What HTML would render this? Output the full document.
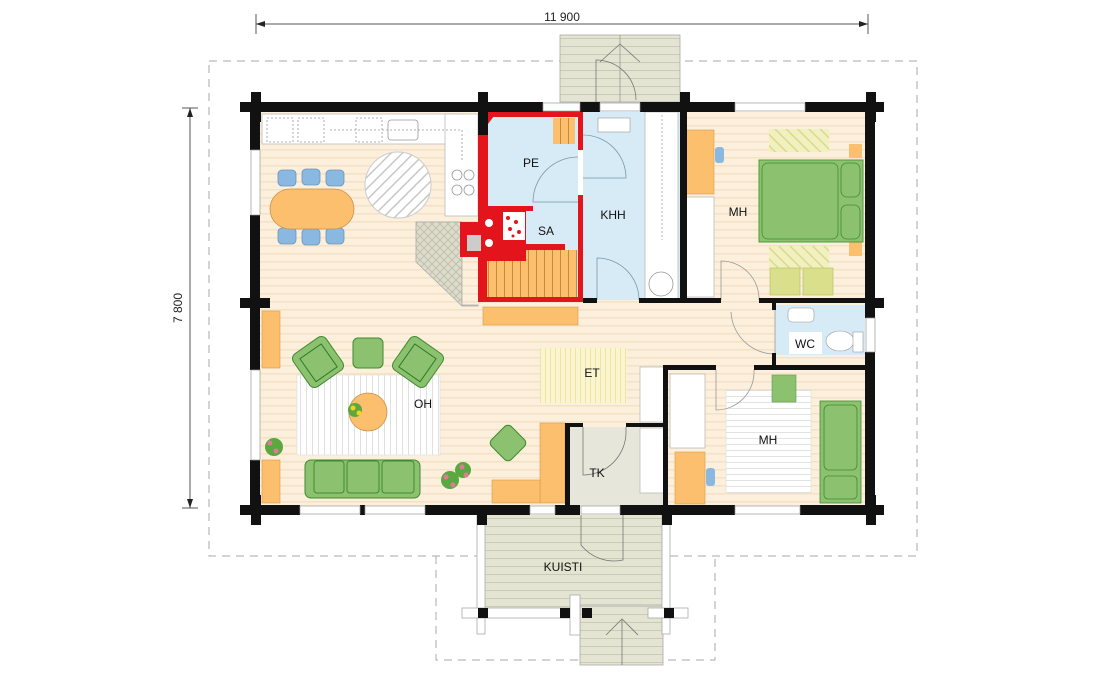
<!DOCTYPE html>
<html><head><meta charset="utf-8"><style>
html,body{margin:0;padding:0;background:#fff;}
svg{display:block;font-family:"Liberation Sans",Arial,sans-serif;}
</style></head><body>
<svg width="1100" height="680" viewBox="0 0 1100 680" xmlns="http://www.w3.org/2000/svg">
<defs>
<pattern id="floor" width="8" height="8" patternUnits="userSpaceOnUse">
<rect width="8" height="8" fill="#fcefdc"/><rect y="5" width="8" height="1.5" fill="#f5e2c6"/></pattern>
<pattern id="blue" width="6" height="6" patternUnits="userSpaceOnUse">
<rect width="6" height="6" fill="#d6ebf5"/></pattern>
<pattern id="deck" width="8" height="8" patternUnits="userSpaceOnUse">
<rect width="8" height="8" fill="#e3e4d2"/><rect y="6" width="8" height="1" fill="#c9cbb4"/></pattern>
<pattern id="hatch" width="8" height="8" patternUnits="userSpaceOnUse" patternTransform="rotate(45)">
<rect width="8" height="8" fill="#fff"/><rect width="1.5" height="8" fill="#c8c8c8"/></pattern>
<pattern id="vstripe" width="6" height="6" patternUnits="userSpaceOnUse">
<rect width="6" height="6" fill="#fff"/><rect width="1" height="6" fill="#e0e0e0"/></pattern>
<pattern id="hstripe" width="6" height="6" patternUnits="userSpaceOnUse">
<rect width="6" height="6" fill="#fff"/><rect width="6" height="1" fill="#e2e2e2"/></pattern>
<pattern id="etmat" width="5" height="5" patternUnits="userSpaceOnUse">
<rect width="5" height="5" fill="#fbf5cf"/><rect width="1" height="5" fill="#efe3a8"/></pattern>
<pattern id="bench" width="8" height="8" patternUnits="userSpaceOnUse">
<rect width="8" height="8" fill="#fbbf6e"/><rect width="1" height="8" fill="#c88a3a"/></pattern>
<pattern id="cross" width="8" height="8" patternUnits="userSpaceOnUse">
<rect width="8" height="8" fill="#dddccc"/><path d="M0 0L8 8M8 0L0 8" stroke="#bdbca8" stroke-width="0.8"/></pattern>
<pattern id="ydiag" width="8" height="8" patternUnits="userSpaceOnUse" patternTransform="rotate(-45)">
<rect width="8" height="8" fill="#f1f0c0"/><rect width="1.5" height="8" fill="#dcd98a"/></pattern>
</defs>

<!-- dimensions -->
<g stroke="#555" stroke-width="1" fill="none">
<line x1="256" y1="24" x2="868" y2="24"/><line x1="256" y1="14" x2="256" y2="34"/><line x1="868" y1="14" x2="868" y2="34"/>
<line x1="190" y1="108" x2="190" y2="508"/><line x1="182" y1="108" x2="198" y2="108"/><line x1="182" y1="508" x2="198" y2="508"/>
</g>
<path d="M256 24l9-3v6z M868 24l-9-3v6z M190 108l-3 9h6z M190 508l-3-9h6z" fill="#222"/>
<text x="562" y="21" font-size="12" text-anchor="middle" fill="#222">11 900</text>
<text x="182" y="308" font-size="12" text-anchor="middle" fill="#222" transform="rotate(-90 182 308)">7 800</text>

<!-- roof dashed -->
<g stroke="#aaa" stroke-width="1" fill="none" stroke-dasharray="8 6">
<rect x="209" y="61" width="708" height="495"/>
<polyline points="436,556 436,660 715,660 715,556"/>
</g>

<!-- back porch -->
<rect x="560" y="35" width="120" height="67" fill="url(#deck)" stroke="#aaa" stroke-width="0.8"/>
<line x1="620" y1="35" x2="620" y2="102" stroke="#999" stroke-width="0.8"/>
<path d="M596 102V60 A40 40 0 0 1 636 100" fill="none" stroke="#777" stroke-width="0.8"/>
<path d="M600 62l20 -18 20 18" fill="none" stroke="#777" stroke-width="0.8"/>

<!-- front porch -->
<rect x="483" y="515" width="182" height="95" fill="url(#deck)"/>
<rect x="580" y="605" width="83" height="60" fill="url(#deck)" stroke="#aaa" stroke-width="0.8"/>
<line x1="622" y1="620" x2="622" y2="665" stroke="#777" stroke-width="0.8"/>
<path d="M606 635l16-16 16 16" fill="none" stroke="#777" stroke-width="0.8"/>
<path d="M581 515V545A42 42 0 0 0 623 560V515" fill="none" stroke="#777" stroke-width="0.8"/>
<g fill="#fff" stroke="#aaa" stroke-width="0.8">
<rect x="477" y="515" width="8" height="95"/><rect x="662" y="515" width="8" height="95"/>
<rect x="462" y="608" width="115" height="10"/><rect x="648" y="608" width="40" height="10"/>
<rect x="477" y="618" width="8" height="16"/><rect x="570" y="595" width="10" height="40"/><rect x="662" y="618" width="8" height="16"/>
</g>
<g fill="#111"><rect x="478" y="608" width="10" height="10"/><rect x="560" y="608" width="10" height="10"/><rect x="582" y="608" width="10" height="10"/><rect x="664" y="608" width="10" height="10"/></g>
<text x="563" y="571" font-size="12" text-anchor="middle" fill="#111">KUISTI</text>

<!-- floors -->
<rect x="260" y="112" width="605" height="395" fill="url(#floor)"/>
<rect x="583" y="112" width="97" height="188" fill="#d6ebf5"/>
<rect x="775" y="305" width="90" height="50" fill="#d6ebf5"/>
<rect x="570" y="427" width="95" height="80" fill="#e6e7da"/>

<!-- kitchen -->
<rect x="262" y="114" width="200" height="30" fill="#fff" stroke="#bbb" stroke-width="0.8"/>
<rect x="445" y="114" width="33" height="102" fill="#fff" stroke="#bbb" stroke-width="0.8"/>
<g fill="none" stroke="#999" stroke-width="0.8" stroke-dasharray="2 2">
<rect x="267" y="118" width="26" height="24"/><rect x="298" y="118" width="26" height="24"/><rect x="356" y="118" width="26" height="24"/>
<line x1="330" y1="130" x2="460" y2="130"/><line x1="462" y1="130" x2="462" y2="160"/>
</g>
<rect x="388" y="120" width="30" height="20" rx="3" fill="none" stroke="#999" stroke-width="0.8"/>
<g fill="none" stroke="#999" stroke-width="0.8"><circle cx="457" cy="175" r="5"/><circle cx="469" cy="175" r="5"/><circle cx="457" cy="190" r="5"/><circle cx="469" cy="190" r="5"/></g>
<circle cx="398" cy="185" r="33" fill="url(#hatch)" stroke="#ccc"/>
<g fill="#8ab8e0" stroke="#6595c0" stroke-width="0.8">
<rect x="278" y="170" width="18" height="16" rx="4"/><rect x="302" y="169" width="18" height="16" rx="4"/><rect x="326" y="170" width="18" height="16" rx="4"/>
<rect x="278" y="228" width="18" height="16" rx="4"/><rect x="302" y="229" width="18" height="16" rx="4"/><rect x="326" y="228" width="18" height="16" rx="4"/>
</g>
<rect x="270" y="189" width="84" height="40" rx="20" fill="#fbbf6e" stroke="#c8914a" stroke-width="0.8"/>
<polygon points="416,222 462,222 462,305 478,305 478,306 462,306 416,262" fill="url(#cross)" stroke="#aaa" stroke-width="0.8"/>

<!-- sauna -->
<rect x="478" y="108" width="105" height="194" fill="#e3141b"/>
<rect x="488" y="117" width="90" height="180" fill="#d6ebf5"/>
<polygon points="478,108 500,108 488,124 478,132" fill="#e3141b"/>
<rect x="487" y="250" width="90" height="47" fill="url(#bench)"/>
<rect x="553" y="118" width="22" height="26" fill="url(#bench)"/>
<rect x="478" y="206" width="48" height="55" fill="#e3141b"/>
<rect x="460" y="222" width="20" height="35" fill="#e3141b"/>
<rect x="480" y="244" width="85" height="6" fill="#e3141b"/>
<rect x="488" y="206" width="45" height="5" fill="#e3141b"/>
<rect x="503" y="212" width="22" height="28" fill="#fff"/>
<g fill="#e3141b"><circle cx="508" cy="218" r="2"/><circle cx="516" cy="222" r="2"/><circle cx="510" cy="229" r="2"/><circle cx="519" cy="232" r="2"/><circle cx="513" cy="236" r="1.5"/></g>
<circle cx="489" cy="223" r="4" fill="#fff"/><circle cx="489" cy="243" r="4" fill="#fff"/>
<rect x="467" y="235" width="14" height="16" fill="#ccc"/>
<rect x="578" y="150" width="5" height="45" fill="#fff"/>
<path d="M578 157A45 45 0 0 0 533 202H578" fill="none" stroke="#7a9aaa" stroke-width="0.8"/>
<text x="531" y="167" font-size="12" text-anchor="middle" fill="#111">PE</text>
<text x="546" y="235" font-size="12" text-anchor="middle" fill="#111">SA</text>

<!-- KHH -->
<rect x="598" y="118" width="32" height="14" fill="#fff" stroke="#999" stroke-width="0.6"/>
<rect x="645" y="112" width="33" height="188" fill="#fff" stroke="#bbb" stroke-width="0.8"/>
<line x1="662" y1="115" x2="662" y2="240" stroke="#aaa" stroke-dasharray="2 2" stroke-width="0.8"/>
<circle cx="661" cy="284" r="12" fill="none" stroke="#999" stroke-width="0.8"/>
<path d="M583 135A43 43 0 0 1 626 178H583" fill="none" stroke="#7a9aaa" stroke-width="0.8"/>
<path d="M597 300V258A42 42 0 0 1 639 300" fill="none" stroke="#7a9aaa" stroke-width="0.8"/>
<text x="613" y="219" font-size="12" text-anchor="middle" fill="#111">KHH</text>

<!-- MH top -->
<rect x="686" y="130" width="28" height="64" fill="#fbbf6e" stroke="#d59a48" stroke-width="0.6"/>
<rect x="715" y="147" width="9" height="16" rx="3" fill="#8ab8e0"/>
<rect x="686" y="197" width="28" height="100" fill="#fff" stroke="#bbb" stroke-width="0.8"/>
<rect x="769" y="129" width="60" height="23" fill="url(#ydiag)"/>
<rect x="769" y="246" width="60" height="23" fill="url(#ydiag)"/>
<rect x="770" y="268" width="30" height="27" fill="#d9df8a" stroke="#b5bf60" stroke-width="0.6"/>
<rect x="803" y="268" width="30" height="27" fill="#d9df8a" stroke="#b5bf60" stroke-width="0.6"/>
<rect x="849" y="144" width="13" height="14" fill="#fbbf6e"/><rect x="849" y="242" width="13" height="14" fill="#fbbf6e"/>
<rect x="759" y="160" width="104" height="82" fill="#8cc26f" stroke="#4f9a3a" stroke-width="1"/>
<rect x="762" y="163" width="76" height="76" rx="6" fill="#8cc26f" stroke="#3f8a30" stroke-width="0.8"/>
<rect x="841" y="163" width="19" height="34" rx="6" fill="#8cc26f" stroke="#3f8a30" stroke-width="0.8"/>
<rect x="841" y="205" width="19" height="34" rx="6" fill="#8cc26f" stroke="#3f8a30" stroke-width="0.8"/>
<path d="M721 300V261A38 38 0 0 1 759 300" fill="none" stroke="#999" stroke-width="0.8"/>
<text x="738" y="216" font-size="12" text-anchor="middle" fill="#111">MH</text>

<!-- WC -->
<rect x="788" y="308" width="26" height="14" rx="4" fill="#fff" stroke="#999" stroke-width="0.6"/>
<rect x="789" y="332" width="33" height="22" fill="#fff"/>
<text x="805" y="348" font-size="12" text-anchor="middle" fill="#111">WC</text>
<ellipse cx="840" cy="341" rx="14" ry="10" fill="#fff" stroke="#999" stroke-width="0.6"/>
<rect x="853" y="332" width="10" height="20" fill="#fff" stroke="#999" stroke-width="0.6"/>
<path d="M775 305V354A44 44 0 0 1 731 312" fill="none" stroke="#999" stroke-width="0.8"/>

<!-- hallway / living -->
<rect x="483" y="307" width="95" height="18" fill="#fbbf6e" stroke="#d59a48" stroke-width="0.6"/>
<rect x="540" y="348" width="87" height="55" fill="url(#etmat)"/>
<text x="592" y="377" font-size="12" text-anchor="middle" fill="#111">ET</text>
<rect x="262" y="311" width="18" height="57" fill="#fbbf6e" stroke="#d59a48" stroke-width="0.6"/>
<rect x="262" y="460" width="18" height="43" fill="#fbbf6e" stroke="#d59a48" stroke-width="0.6"/>
<rect x="297" y="375" width="143" height="80" fill="url(#vstripe)" stroke="#ddd" stroke-width="0.6"/>
<g fill="#8cc26f" stroke="#3f8a30" stroke-width="1">
<g transform="rotate(-35 318 362)"><rect x="298" y="342" width="40" height="40" rx="6"/><rect x="305" y="349" width="26" height="28" fill="#8cc26f" stroke="#2f7a25"/></g>
<g transform="rotate(35 418 362)"><rect x="398" y="342" width="40" height="40" rx="6"/><rect x="405" y="349" width="26" height="28" fill="#8cc26f" stroke="#2f7a25"/></g>
<rect x="353" y="338" width="30" height="30" rx="5"/>
<rect x="305" y="460" width="115" height="38" rx="6"/>
<rect x="314" y="461" width="30" height="32" rx="3"/><rect x="347" y="461" width="32" height="32" rx="3"/><rect x="382" y="461" width="32" height="32" rx="3"/>
<rect x="494" y="429" width="28" height="28" rx="5" transform="rotate(45 508 443)"/>
</g>
<circle cx="368" cy="412" r="19" fill="#fbbf6e" stroke="#c8914a" stroke-width="0.8"/>
<g fill="#5aa840"><circle cx="355" cy="410" r="7"/><circle cx="274" cy="447" r="9"/><circle cx="450" cy="480" r="9"/><circle cx="463" cy="470" r="8"/></g>
<g fill="#f5d21e"><circle cx="353" cy="408" r="2.5"/><circle cx="359" cy="413" r="2.5"/></g>
<g fill="#e07a9a"><circle cx="270" cy="443" r="2.5"/><circle cx="276" cy="451" r="2.5"/><circle cx="446" cy="477" r="2.5"/><circle cx="453" cy="485" r="2.5"/><circle cx="462" cy="467" r="2.5"/><circle cx="466" cy="475" r="2.5"/></g>
<rect x="540" y="423" width="25" height="80" fill="#fbbf6e" stroke="#d59a48" stroke-width="0.6"/>
<rect x="492" y="480" width="48" height="23" fill="#fbbf6e" stroke="#d59a48" stroke-width="0.6"/>
<text x="423" y="408" font-size="12" text-anchor="middle" fill="#111">OH</text>

<!-- wardrobes -->
<rect x="640" y="367" width="24" height="55" fill="#fff" stroke="#bbb" stroke-width="0.8"/>
<rect x="640" y="428" width="24" height="65" fill="#fff" stroke="#bbb" stroke-width="0.8"/>
<rect x="670" y="374" width="35" height="74" fill="#fff" stroke="#bbb" stroke-width="0.8"/>

<!-- TK -->
<path d="M583 427V475A43 43 0 0 0 626 432V427" fill="none" stroke="#777" stroke-width="0.8"/>
<text x="597" y="477" font-size="12" text-anchor="middle" fill="#111">TK</text>

<!-- MH bottom -->
<rect x="726" y="390" width="85" height="103" fill="url(#hstripe)" stroke="#ddd" stroke-width="0.6"/>
<rect x="772" y="375" width="24" height="27" fill="#8cc26f" stroke="#5f9a4a" stroke-width="0.6"/>
<rect x="675" y="452" width="30" height="52" fill="#fbbf6e" stroke="#d59a48" stroke-width="0.6"/>
<rect x="706" y="468" width="9" height="18" rx="3" fill="#8ab8e0"/>
<rect x="820" y="401" width="41" height="102" fill="#8cc26f" stroke="#3f8a30" stroke-width="0.8"/>
<rect x="824" y="405" width="33" height="65" rx="5" fill="none" stroke="#3f8a30" stroke-width="0.8"/>
<rect x="824" y="476" width="33" height="23" rx="4" fill="none" stroke="#3f8a30" stroke-width="0.8"/>
<path d="M716 370V410A38 38 0 0 0 754 370" fill="none" stroke="#999" stroke-width="0.8"/>
<text x="768" y="444" font-size="12" text-anchor="middle" fill="#111">MH</text>

<!-- walls -->
<g fill="#111">
<rect x="250" y="102" width="228" height="10"/>
<rect x="488" y="102" width="55" height="10"/>
<rect x="580" y="102" width="20" height="10"/>
<rect x="640" y="102" width="95" height="10"/>
<rect x="805" y="102" width="70" height="10"/>
<rect x="250" y="102" width="10" height="48"/>
<rect x="250" y="215" width="10" height="155"/>
<rect x="250" y="460" width="10" height="55"/>
<rect x="865" y="102" width="10" height="216"/>
<rect x="865" y="352" width="10" height="163"/>
<rect x="250" y="505" width="50" height="10"/><rect x="360" y="505" width="5" height="10"/>
<rect x="425" y="505" width="105" height="10"/><rect x="555" y="505" width="25" height="10"/>
<rect x="620" y="505" width="115" height="10"/><rect x="800" y="505" width="75" height="10"/>
<!-- posts -->
<rect x="251" y="92" width="10" height="30"/><rect x="240" y="102" width="30" height="10"/>
<rect x="478" y="92" width="10" height="43"/>
<rect x="680" y="92" width="10" height="20"/>
<rect x="866" y="92" width="10" height="30"/><rect x="866" y="102" width="18" height="10"/>
<rect x="240" y="298" width="30" height="10"/>
<rect x="866" y="298" width="18" height="10"/>
<rect x="240" y="505" width="30" height="10"/><rect x="251" y="495" width="10" height="30"/>
<rect x="866" y="505" width="18" height="10"/><rect x="866" y="495" width="10" height="30"/>
<rect x="477" y="505" width="10" height="20"/><rect x="662" y="505" width="10" height="20"/>
<!-- interior -->
<rect x="680" y="108" width="7" height="194"/>
<rect x="583" y="298" width="14" height="5"/><rect x="639" y="298" width="82" height="5"/><rect x="759" y="298" width="110" height="5"/>
<rect x="772" y="303" width="4" height="7"/><rect x="772" y="353" width="4" height="16"/>
<rect x="663" y="365" width="53" height="5"/><rect x="754" y="365" width="115" height="5"/>
<rect x="663" y="365" width="5" height="145"/>
<rect x="565" y="423" width="5" height="87"/><rect x="565" y="423" width="18" height="4"/><rect x="626" y="423" width="40" height="4"/>
</g>
<!-- windows -->
<g fill="#fff" stroke="#999" stroke-width="0.7">
<rect x="543" y="103" width="37" height="8"/><rect x="735" y="103" width="70" height="8"/>
<rect x="251" y="150" width="9" height="65"/><rect x="251" y="370" width="9" height="90"/>
<rect x="866" y="318" width="9" height="34"/>
<rect x="300" y="506" width="60" height="8"/><rect x="365" y="506" width="60" height="8"/>
<rect x="530" y="506" width="25" height="8"/><rect x="735" y="506" width="65" height="8"/>
<rect x="581" y="506" width="39" height="8"/><rect x="600" y="103" width="40" height="8"/>
</g>
</svg>
</body></html>
